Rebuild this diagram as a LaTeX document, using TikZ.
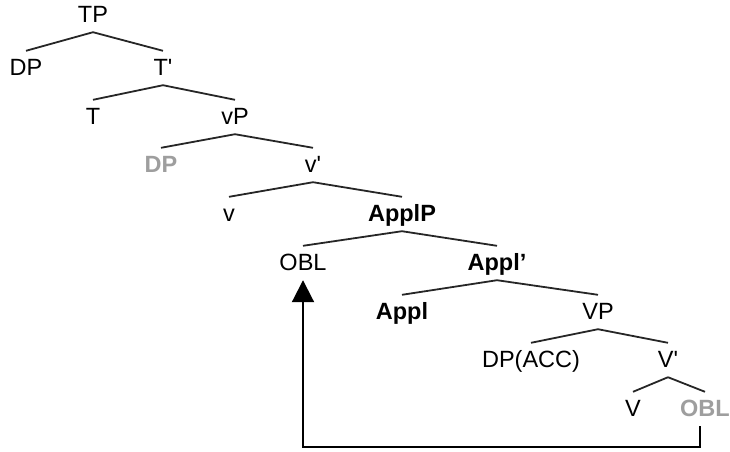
\documentclass[tikz,border=0pt]{standalone}
\usepackage{fontspec}
\setmainfont{Liberation Sans}
\usetikzlibrary{arrows.meta}
\colorlet{lightcat}{black!38}
\newcommand\barmark{\textquotesingle}

\begin{document}
\begin{tikzpicture}[x=1pt,y=-1pt]
			\tikzset{cat/.style={anchor=base,inner xsep=0pt,inner ysep=10pt,text height=14pt,text depth=0pt,font=\fontsize{23.5}{27}\selectfont},
				bcat/.style={cat,font=\fontsize{23.5}{27}\selectfont\bfseries},
				branch/.style={line width=1.8pt,black!85}}
			\useasboundingbox (0,0) rectangle (730,451);

			\node[cat] (TP) at (93,22) {TP};
			\node[cat] (DPa) at (26,75) {DP};
			\node[cat] (Tbar) at (163,75) {T\barmark};
			\node[cat] (T) at (93,124) {T};
			\node[cat] (vP) at (235,124) {vP};
			\node[bcat,lightcat] (DPb) at (161,172) {DP};
			\node[cat] (vbar) at (313,172) {v\barmark};
			\node[cat] (v) at (229,221) {v};
			\node[bcat] (ApplP) at (402,221) {ApplP};
			\node[cat] (OBLa) at (303,270) {OBL};
			\node[bcat] (Applbar) at (497,270) {Appl’};
			\node[bcat] (Appl) at (402,319) {Appl};
			\node[cat] (VP) at (598,319) {VP};
			\node[cat] (DPacc) at (531,367) {DP(ACC)};
			\node[cat] (Vbar) at (668,367) {V\barmark};
			\node[cat] (V) at (633,416) {V};
			\node[bcat,lightcat] (OBLb) at (705,416) {OBL};

			% branches
			\foreach \m/\d in {TP/DPa,TP/Tbar,Tbar/T,Tbar/vP,vP/DPb,vP/vbar,vbar/v,vbar/ApplP,
				ApplP/OBLa,ApplP/Applbar,Applbar/Appl,Applbar/VP,VP/DPacc,VP/Vbar,Vbar/V,Vbar/OBLb}
				\draw[branch] (\m.south) -- (\d.north);

			% movement
			\coordinate (low) at (0,447);
			\draw[line width=2pt,-{Triangle[width=22pt,length=22pt]}] ([xshift=-5pt]OBLb.south) -- ([xshift=-5pt]OBLb.south |- low) -- (OBLa.south |- low) -- (OBLa.south);
		\end{tikzpicture}
\end{document}
